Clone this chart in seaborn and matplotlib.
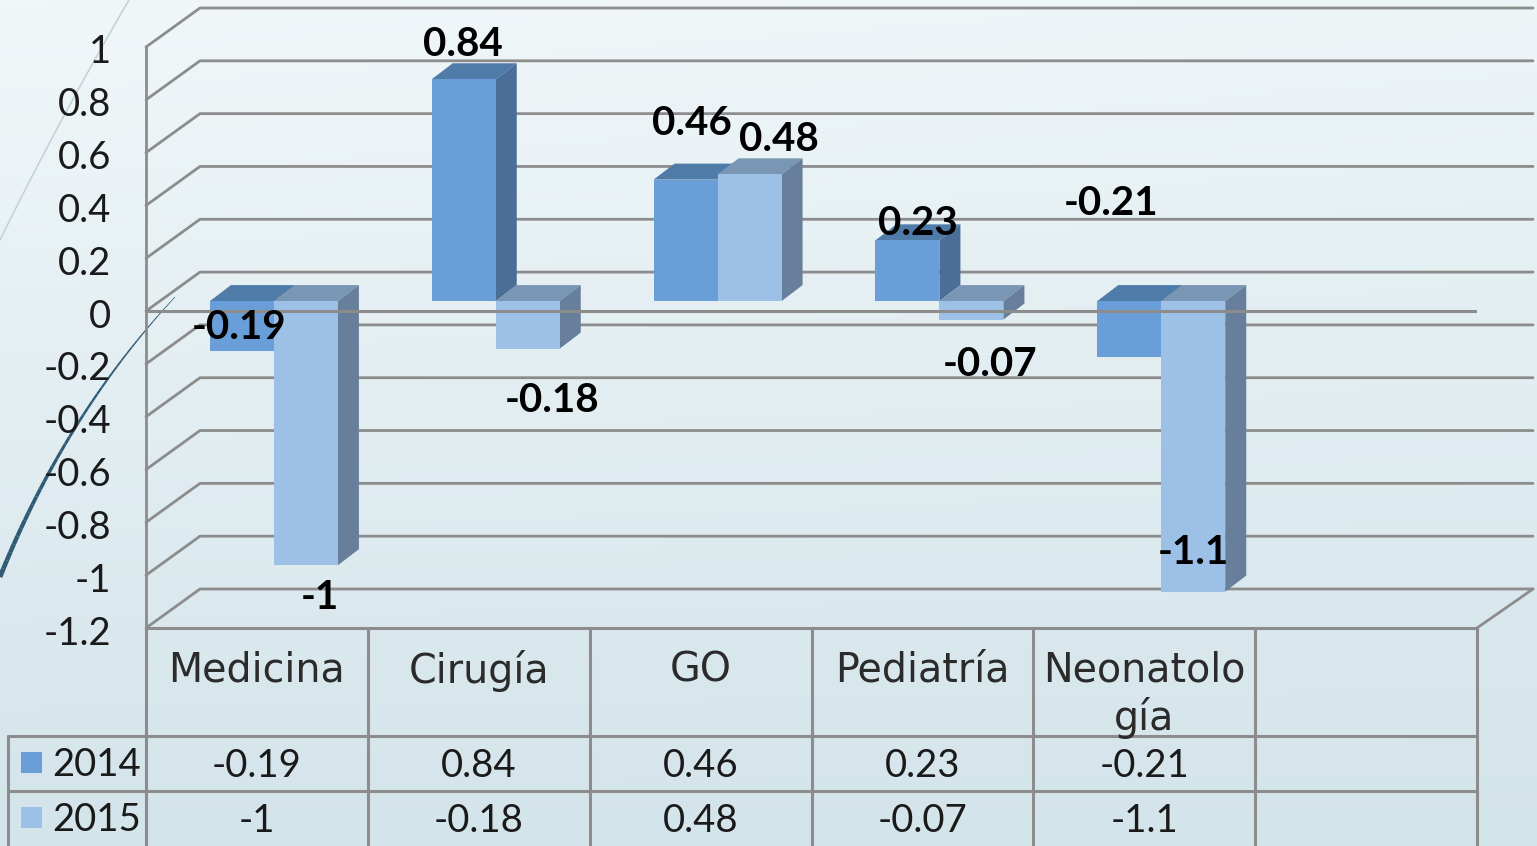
from __future__ import annotations

import matplotlib

matplotlib.use("Agg")

import matplotlib.pyplot as plt
import numpy as np
import pandas as pd
import seaborn as sns
from matplotlib.collections import LineCollection
from matplotlib.patches import Polygon
from matplotlib.transforms import Affine2D

categories = ["Medicina", "Cirugía", "GO", "Pediatría", "Neonatología"]
table_headers = ["Medicina", "Cirugía", "GO", "Pediatría", "Neonatolo\ngía"]
years = ["2014", "2015"]
values_2014 = [-0.19, 0.84, 0.46, 0.23, -0.21]
values_2015 = [-1, -0.18, 0.48, -0.07, -1.1]
y_ticks = [1, 0.8, 0.6, 0.4, 0.2, 0, -0.2, -0.4, -0.6, -0.8, -1, -1.2]

front_colors = {"2014": "#6a9ed8", "2015": "#9dc1e6"}
side_colors = {"2014": "#4a6e98", "2015": "#677f9b"}
top_colors = {"2014": "#4f7ba8", "2015": "#7a96b5"}
line_color = "#8c8c8c"
text_color = "#1a1a1a"

# pixel nudges of the data labels, from the bar end
label_nudges = {
    "2014": [(-3, 24), (-1, 35), (6, 56), (10, 17), (-18, 153)],
    "2015": [(14, -32), (24, -52), (29, 35), (19, -45), (0, 39)],
}

W, H = 1537, 846
PLOT_L, PLOT_R, PLOT_T, PLOT_B = 146, 1477, 47, 628
BAR_SHIFT = (17, 10)
BAR_DEPTH = (21, 16)
WALL_DEPTH = (54, 39)
WALL_END = 56


def main() -> None:
    sns.set_theme(style="white")
    plt.rcParams["font.family"] = ["Lato", "DejaVu Sans"]

    fig = plt.figure(figsize=(W / 100, H / 100), dpi=100)

    # slide background and its two decorative curves
    bg = fig.add_axes([0, 0, 1, 1], zorder=0)
    gy, gx = np.mgrid[0:1:200j, 0:1:200j]
    shade = 0.88 * gy + 0.12 * gx * (1 - gy)
    bg.imshow(shade, cmap=matplotlib.colors.LinearSegmentedColormap.from_list(
        "slide", ["#f1f7f9", "#d3e4ea"]), extent=(0, W, H, 0), aspect="auto")
    t = np.linspace(0, 1, 40)
    bg.plot((1 - t) ** 2 * 129 + 2 * t * (1 - t) * 60 + t ** 2 * 0,
            (1 - t) ** 2 * 0 + 2 * t * (1 - t) * 118 + t ** 2 * 240,
            color="#c0d1d9", lw=1.1)
    cx = (1 - t) ** 2 * 175 + 2 * t * (1 - t) * 65 + t ** 2 * 0
    cy = (1 - t) ** 2 * 297 + 2 * t * (1 - t) * 415 + t ** 2 * 577
    pts = np.column_stack([cx, cy])
    segs = np.stack([pts[:-1], pts[1:]], axis=1)
    bg.add_collection(LineCollection(segs, colors="#2f5b75", linewidths=0.5 + 3 * t[:-1]))
    bg.set_xlim(0, W)
    bg.set_ylim(H, 0)
    bg.axis("off")

    # main plot area: the front plane of the 3D box
    ax = fig.add_axes(
        [PLOT_L / W, 1 - PLOT_B / H, (PLOT_R - PLOT_L) / W, (PLOT_B - PLOT_T) / H],
        zorder=1,
    )
    ax.set_facecolor("none")

    df = pd.DataFrame(
        {
            "servicio": categories * 2,
            "anio": ["2014"] * 5 + ["2015"] * 5,
            "valor": values_2014 + values_2015,
        }
    )
    sns.barplot(
        data=df, x="servicio", y="valor", hue="anio", order=categories, hue_order=years,
        palette=front_colors, width=128 / 221.83, gap=0, saturation=1, legend=False,
        linewidth=0, ax=ax,
    )
    ax.set_xlim(-0.5, 5.5)
    ax.set_ylim(-1.2, 1)
    ax.set_xlabel("")
    ax.set_ylabel("")
    ax.set_xticks([])
    ax.set_yticks(y_ticks)
    ax.set_yticklabels([f"{v:g}" for v in y_ticks], fontsize=27.5, color=text_color)
    ax.tick_params(axis="y", length=0, pad=26)
    for lab in ax.get_yticklabels():
        lab.set_transform(lab.get_transform() + Affine2D().translate(1, -2))
    sns.despine(ax=ax, left=True, bottom=True)

    px_x = (PLOT_R - PLOT_L) / 6
    px_y = (PLOT_B - PLOT_T) / 2.2

    # back wall grid lines
    wx, wy = WALL_DEPTH[0] / px_x, WALL_DEPTH[1] / px_y
    for v in y_ticks:
        ax.plot([-0.5, -0.5 + wx, 5.5 + WALL_END / px_x], [v, v + wy, v + wy],
                color=line_color, lw=2, clip_on=False, zorder=1, solid_joinstyle="round")
    ax.plot([5.5, 5.5 + WALL_END / px_x], [-1.2, -1.2 + wy], color=line_color, lw=2,
            clip_on=False, zorder=1)
    ax.plot([-0.5, -0.5], [-1.2, 1], color=line_color, lw=2, clip_on=False, zorder=1)

    # bars sit behind the front plane, each gets a side and a top face
    shift = ax.transData + Affine2D().translate(*BAR_SHIFT)
    dx, dy = BAR_DEPTH[0] / px_x, BAR_DEPTH[1] / px_y
    for i, (container, year) in enumerate(zip(ax.containers, years)):
        z = 3 + i
        for j, bar in enumerate(container):
            x0, x1 = bar.get_x(), bar.get_x() + bar.get_width()
            lo, hi = sorted([bar.get_y(), bar.get_y() + bar.get_height()])
            bar.set_transform(shift)
            bar.set_zorder(z + 0.2)
            bar.set_clip_on(False)
            top = [(x0, hi), (x1, hi), (x1 + dx, hi + dy), (x0 + dx, hi + dy)]
            side = [(x1, lo), (x1 + dx, lo + dy), (x1 + dx, hi + dy), (x1, hi)]
            ax.add_patch(Polygon(top, fc=top_colors[year], ec="none", transform=shift,
                                 zorder=z, clip_on=False))
            ax.add_patch(Polygon(side, fc=side_colors[year], ec="none", transform=shift,
                                 zorder=z + 0.1, clip_on=False))

            value = values_2014[j] if year == "2014" else values_2015[j]
            nudge = label_nudges[year][j]
            ax.annotate(
                f"{value:g}", xy=((x0 + x1) / 2, value), xycoords="data",
                xytext=(BAR_SHIFT[0] + nudge[0], BAR_SHIFT[1] + nudge[1]),
                textcoords="offset pixels", ha="center", va="center", fontsize=29,
                fontweight="bold", color="black", zorder=7, annotation_clip=False,
            )

    # zero line lies over the bars
    ax.axhline(0, color=line_color, lw=2.2, zorder=6)

    # data table under the plot, in pixel coordinates
    tab = fig.add_axes([0, 0, 1, 1 - PLOT_B / H], zorder=2)
    tab.set_facecolor("none")
    tab.set_xlim(0, W)
    tab.set_ylim(H, PLOT_B)
    tab.axis("off")
    col_w = px_x
    for k in range(7):
        tab.plot([PLOT_L + k * col_w] * 2, [PLOT_B, H], color=line_color, lw=2.2, clip_on=False)
    tab.plot([PLOT_L, PLOT_R], [PLOT_B, PLOT_B], color=line_color, lw=2.2, clip_on=False)
    tab.plot([8, 8], [736, H], color=line_color, lw=2.2)
    for row_y in [736, 791]:
        tab.plot([8, PLOT_R], [row_y, row_y], color=line_color, lw=2.2)

    for k, label in enumerate(table_headers):
        center = PLOT_L + (k + 0.5) * col_w
        tab.text(center, 650, label, ha="center", va="top", fontsize=28.5, color="#2b2b2b",
                 family="DejaVu Sans", linespacing=1.2)
        tab.text(center, 766, f"{values_2014[k]:g}", ha="center", va="center", fontsize=27.5,
                 color=text_color)
        tab.text(center, 821, f"{values_2015[k]:g}", ha="center", va="center", fontsize=27.5,
                 color=text_color)

    for year, y0 in zip(years, [752, 807]):
        tab.fill_between([21, 42], y0, y0 + 21, color=front_colors[year], lw=0)
        tab.text(52, y0 + 13, year, ha="left", va="center", fontsize=27.5, color=text_color)

    fig.savefig("out.png", dpi=100)


if __name__ == "__main__":
    main()
